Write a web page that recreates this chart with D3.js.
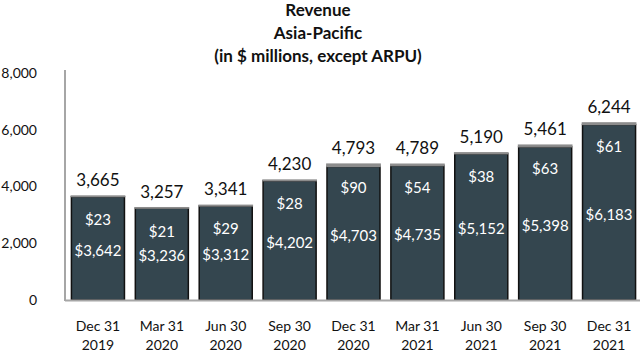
<!DOCTYPE html>
<html><head><meta charset="utf-8">
<script src="https://cdn.jsdelivr.net/npm/d3@7"></script>
<style>body{margin:0;background:#fff}svg{display:block}text{font-family:Lato,"Open Sans",sans-serif}</style>
</head><body>
<svg id="c" width="640" height="352"></svg>
<script>
const quarters = ["Dec 31", "Mar 31", "Jun 30", "Sep 30", "Dec 31", "Mar 31", "Jun 30", "Sep 30", "Dec 31"];
const years = ["2019", "2020", "2020", "2020", "2020", "2021", "2021", "2021", "2021"];
const baseValues = [3642, 3236, 3312, 4202, 4703, 4735, 5152, 5398, 6183];
const topValues = [23, 21, 29, 28, 90, 54, 38, 63, 61];
const totals = [3665, 3257, 3341, 4230, 4793, 4789, 5190, 5461, 6244];
const yTicks = [0, 2000, 4000, 6000, 8000];
const titleLines = ["Revenue", "Asia-Pacific", "(in $ millions, except ARPU)"];

const svg = d3.select("#c");
const idx = d3.range(quarters.length);
const x = d3.scaleBand().domain(idx).range([66, 641]).paddingInner(0.17).paddingOuter(0.085);
const y = d3.scaleLinear().domain([0, 8000]).range([300, 73]);
const fmt = d3.format(",");

// title
svg.append("g").selectAll("text").data(titleLines).join("text")
  .attr("x", 318).attr("y", (d, i) => 16 + i * 23)
  .attr("text-anchor", "middle").attr("font-size", 17).attr("font-weight", "bold").attr("fill", "#111")
  .text(d => d);

// y axis
const yAxis = d3.axisLeft(y).tickValues(yTicks).tickFormat(fmt).tickSize(0).tickPadding(0);
const ga = svg.append("g").attr("transform", "translate(37,0)").call(yAxis);
ga.select(".domain").remove();
ga.selectAll("text").attr("font-size", 14).attr("fill", "#111").attr("font-family", "Lato, sans-serif");

// axis lines
svg.append("line").attr("x1", 65).attr("x2", 65).attr("y1", 70).attr("y2", 301).attr("stroke", "#a6a6a6").attr("stroke-width", 2);

// bars
const g = svg.append("g");
const bw = x.bandwidth();
g.selectAll("rect.base").data(idx).join("rect").attr("class", "base")
  .attr("x", i => x(i)).attr("width", bw)
  .attr("y", i => y(baseValues[i])).attr("height", i => y(0) - y(baseValues[i]))
  .attr("fill", "#34464f").attr("stroke", "#111").attr("stroke-width", 1.5);
g.selectAll("rect.top").data(idx).join("rect").attr("class", "top")
  .attr("x", i => x(i) - 0.25).attr("width", bw + 0.5)
  .attr("y", i => y(totals[i])).attr("height", i => y(baseValues[i]) - y(totals[i]))
  .attr("fill", "#8c8c8c").attr("stroke", "#8c8c8c").attr("stroke-width", 1.2);

svg.append("line").attr("x1", 65).attr("x2", 640).attr("y1", 300.5).attr("y2", 300.5).attr("stroke", "#a6a6a6").attr("stroke-width", 2);

// totals labels
g.selectAll("text.tot").data(idx).join("text").attr("class", "tot")
  .attr("x", i => x(i) + bw / 2).attr("y", i => y(totals[i]) - 10)
  .attr("text-anchor", "middle").attr("font-size", 17).attr("fill", "#111")
  .text(i => fmt(totals[i]));

// small labels
g.selectAll("text.sm").data(idx).join("text").attr("class", "sm")
  .attr("x", i => x(i) + bw / 2).attr("y", i => y(totals[i]) + 24).attr("dy", "0.35em")
  .attr("text-anchor", "middle").attr("font-size", 15).attr("fill", "#fff")
  .text(i => "$" + topValues[i]);

// base labels
g.selectAll("text.bs").data(idx).join("text").attr("class", "bs")
  .attr("x", i => x(i) + bw / 2).attr("y", i => (y(baseValues[i]) + y(0)) / 2 + 2).attr("dy", "0.35em")
  .attr("text-anchor", "middle").attr("font-size", 15).attr("fill", "#fff")
  .text(i => "$" + fmt(baseValues[i]));

// x labels
const xl = svg.append("g").selectAll("text").data(idx).join("text")
  .attr("text-anchor", "middle").attr("font-size", 14).attr("fill", "#111");
xl.append("tspan").attr("x", i => x(i) + bw / 2).attr("y", 331).text(i => quarters[i]);
xl.append("tspan").attr("x", i => x(i) + bw / 2).attr("y", 350).text(i => years[i]);
</script>
</body></html>
